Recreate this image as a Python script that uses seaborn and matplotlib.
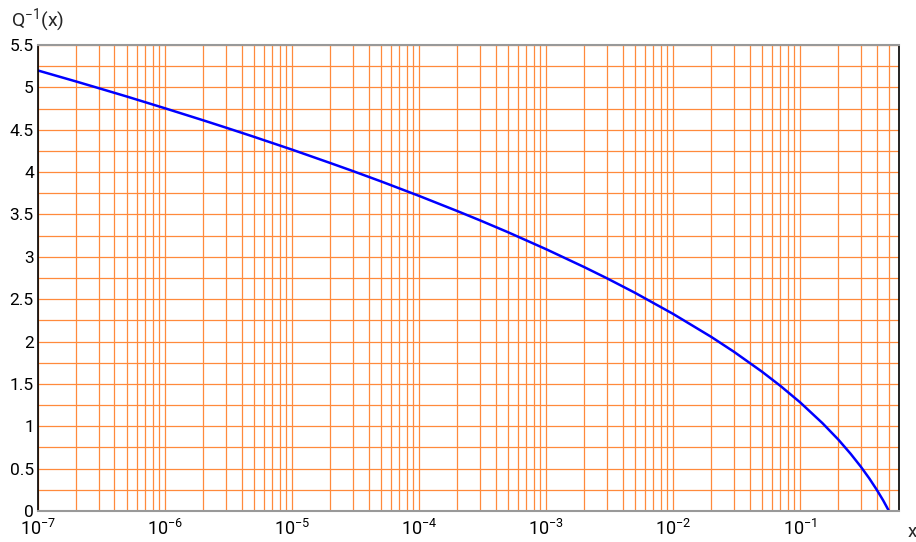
import numpy as np
import pandas as pd
import matplotlib
matplotlib.use("Agg")
import matplotlib.pyplot as plt
import matplotlib.ticker as mticker
import seaborn as sns

# values
x_vals = [1e-7, 2e-7, 3e-7, 5e-7, 1e-6, 2e-6, 3e-6, 5e-6, 1e-5, 2e-5, 3e-5, 5e-5,
          1e-4, 2e-4, 3e-4, 5e-4, 1e-3, 2e-3, 3e-3, 5e-3, 1e-2, 2e-2, 3e-2, 5e-2,
          0.07, 0.1, 0.15, 0.2, 0.25, 0.3, 0.35, 0.4, 0.45, 0.5]
y_vals = [5.199, 5.069, 4.991, 4.892, 4.753, 4.611, 4.526, 4.417, 4.265, 4.107, 4.013, 3.891,
          3.719, 3.540, 3.432, 3.291, 3.090, 2.878, 2.748, 2.576, 2.326, 2.054, 1.881, 1.645,
          1.476, 1.282, 1.036, 0.842, 0.674, 0.524, 0.385, 0.253, 0.126, 0.0]
y_ticks = [0, 0.5, 1, 1.5, 2, 2.5, 3, 3.5, 4, 4.5, 5, 5.5]
y_tick_labels = ["0", "0.5", "1", "1.5", "2", "2.5", "3", "3.5", "4", "4.5", "5", "5.5"]

df = pd.DataFrame({"x": x_vals, "y": y_vals})

sns.set_style("white")
plt.rcParams['font.family'] = ['Roboto', 'DejaVu Sans']
plt.rcParams['mathtext.fontset'] = 'custom'
plt.rcParams['mathtext.rm'] = 'Roboto'
plt.rcParams['mathtext.it'] = 'Roboto'
plt.rcParams['mathtext.bf'] = 'Roboto'

fig = plt.figure(figsize=(9.16, 5.42), dpi=100)
ax = fig.add_axes([38/916, 1 - 511/542, (899-38)/916, (511-45)/542])

sns.lineplot(data=df, x="x", y="y", ax=ax, color="#0000ff", linewidth=1.8, sort=False)
ax.set_xscale("log")
ax.set_xlim(1e-7, 0.6)
ax.set_ylim(0, 5.5)

ax.xaxis.set_major_locator(mticker.LogLocator(base=10, numticks=20))
ax.xaxis.set_minor_locator(mticker.LogLocator(base=10, subs=np.arange(2, 10), numticks=100))
ax.xaxis.set_minor_formatter(mticker.NullFormatter())
ax.set_yticks(y_ticks)
ax.set_yticklabels(y_tick_labels)
ax.yaxis.set_minor_locator(mticker.MultipleLocator(0.25))

grid_color = "#ff8a3c"
ax.grid(which="both", axis="both", color=grid_color, linewidth=0.9, alpha=1)
ax.set_axisbelow(True)

ax.tick_params(which="both", length=0, colors="black")
ax.tick_params(axis="x", pad=6, labelsize=13)
ax.tick_params(axis="y", pad=3, labelsize=12.5)
ax.set_xlabel("")
ax.set_ylabel("")

for side in ["left", "right"]:
    ax.spines[side].set_color("black")
    ax.spines[side].set_linewidth(1.2)
for side in ["top", "bottom"]:
    ax.spines[side].set_color("#999999")
    ax.spines[side].set_linewidth(1.5)

fig.text(11/916, 1 - 20/542, r"Q$^{\mathregular{-1}}$(x)", fontsize=14, va="center", ha="left")
fig.text(912/916, 1 - 532/542, "x", fontsize=13.5, va="center", ha="center")

fig.savefig("out.png", dpi=100, facecolor="white")
